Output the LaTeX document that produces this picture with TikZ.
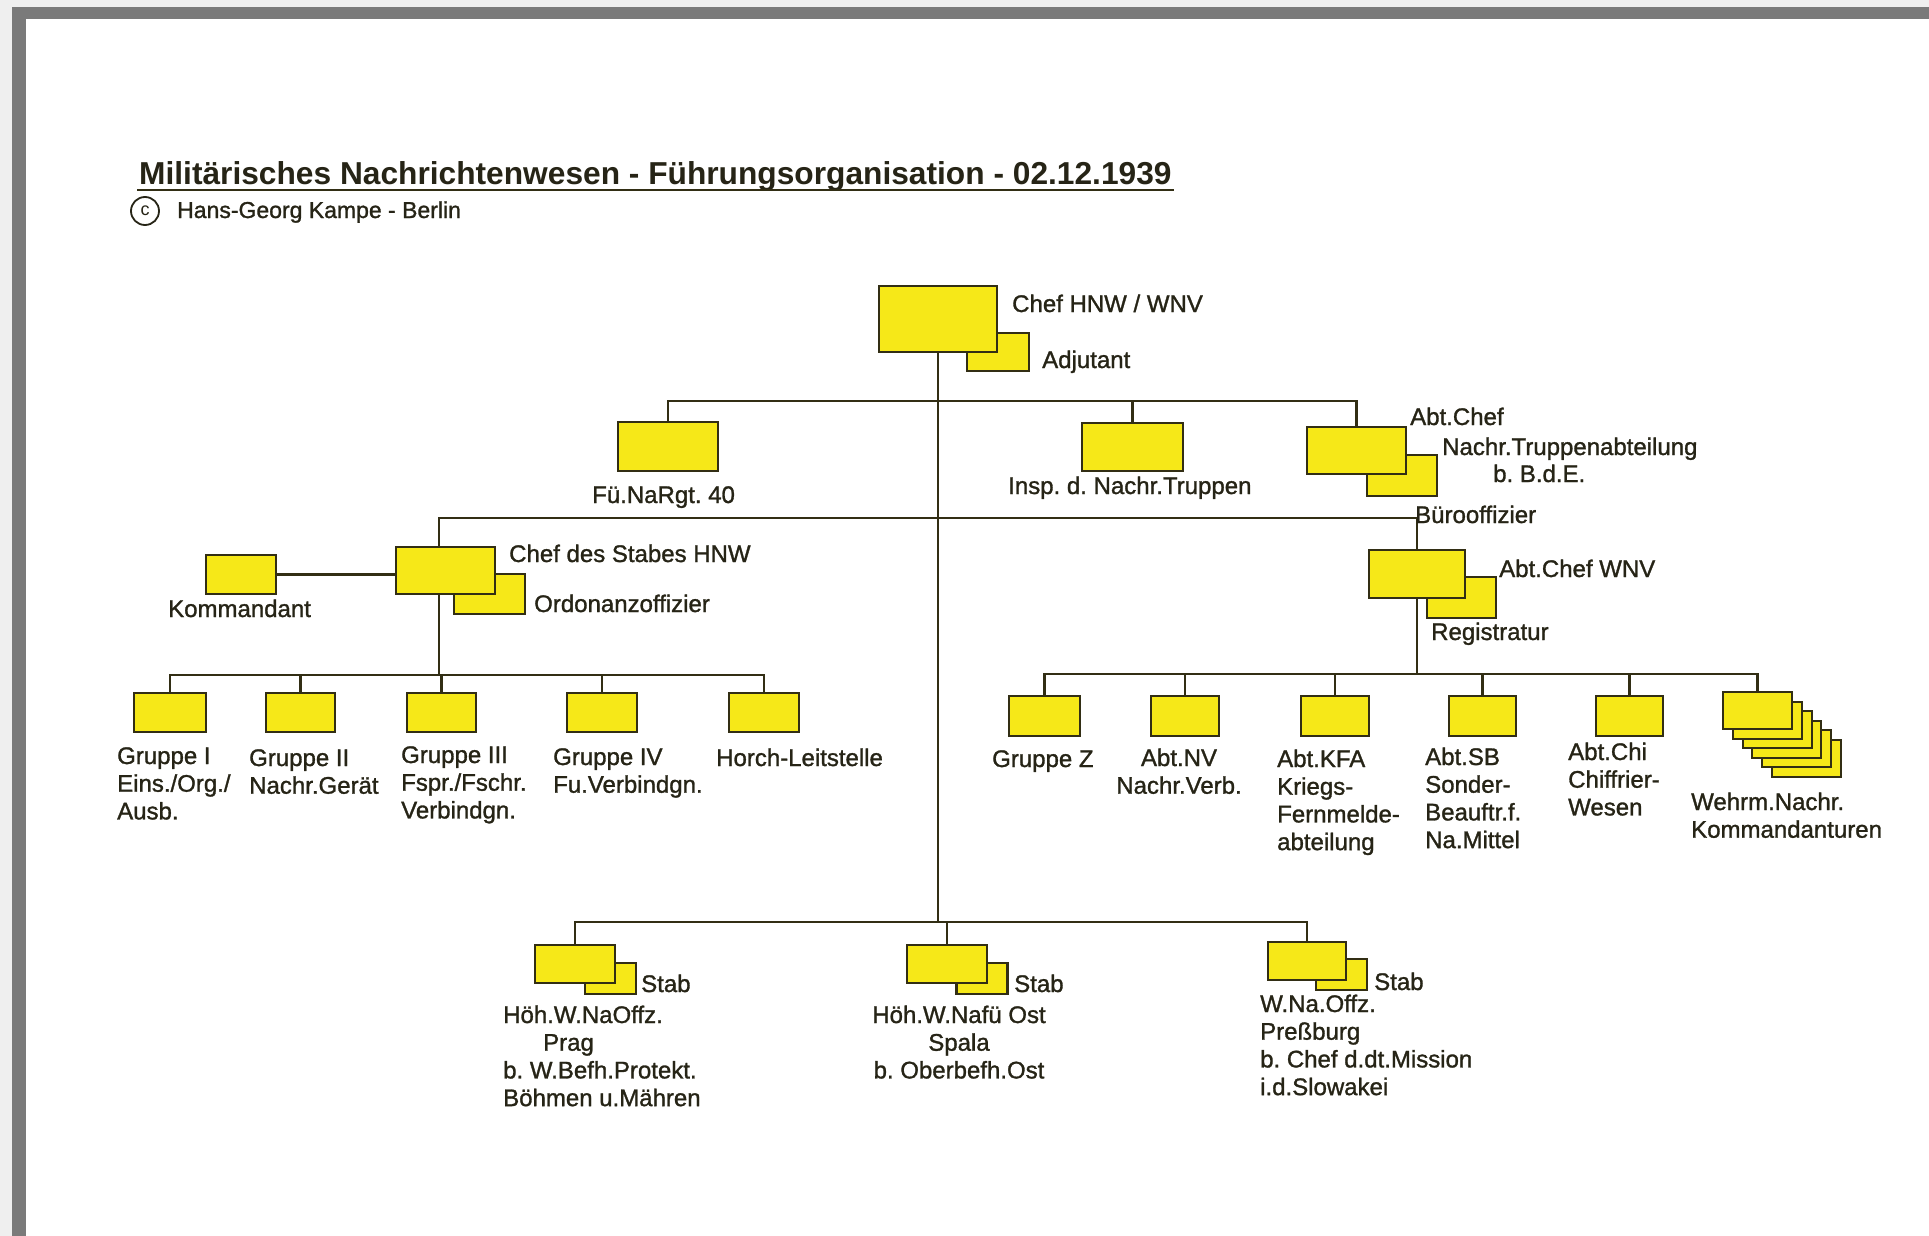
\documentclass[tikz,border=0pt]{standalone}
\usepackage{fontspec}
\setmainfont{Liberation Sans}
\newfontfamily\lblfont[FakeBold=1.2]{Liberation Sans}
\usetikzlibrary{calc}
\frenchspacing
\definecolor{boxfill}{RGB}{246,232,24}
\definecolor{boxline}{RGB}{50,46,20}
\definecolor{txt}{RGB}{38,36,22}
\definecolor{frameD}{RGB}{122,122,122}
\definecolor{frameL}{RGB}{239,239,239}
\newcommand{\mlines}[1]{\begin{tabular}[t]{@{}l@{}}#1\end{tabular}}
\newcommand{\mcent}[1]{\begin{tabular}[t]{@{}c@{}}#1\end{tabular}}
\tikzset{
  orgbox/.style={draw=boxline, fill=boxfill, line width=2.4pt, inner sep=0pt, outer sep=0pt, rectangle},
  conn/.style={draw=boxline, line width=2.2pt},
  lbl/.style={text=txt, inner sep=0pt, anchor=base west, font=\lblfont\fontsize{24}{27.7}\selectfont},
  lblc/.style={lbl, anchor=base}
}
\begin{document}
\begin{tikzpicture}[x=1pt,y=-1pt]
\useasboundingbox (0,0) rectangle (1929,1236);
% frame
\fill[frameL] (0,0) rectangle (1929,1236);
\fill[frameD] (12,7) rectangle (1929,1236);
\fill[white] (26,19) rectangle (1929,1236);

% title
\node[text=txt, inner sep=0pt, anchor=base west, font=\bfseries\fontsize{31.7}{34}\selectfont] (title) at (139,184) {Militärisches Nachrichtenwesen - Führungsorganisation - 02.12.1939};
\draw[boxline, line width=2.6pt] ([yshift=-6pt,xshift=-2pt]title.base west) -- ([yshift=-6pt,xshift=2pt]title.base east);
\node[circle, draw=txt, line width=1.8pt, minimum size=28pt, inner sep=0pt, text=txt, font=\fontsize{18}{18}\selectfont] (copyr) at (145,211) {c};
\node[text=txt, inner sep=0pt, anchor=base west, font=\lblfont\fontsize{23}{26}\selectfont] (author) at (177,218) {Hans-Georg Kampe - Berlin};

% bus levels
\coordinate (b1) at (0,401);
\coordinate (b2) at (0,518);
\coordinate (b3) at (0,675);
\coordinate (b4) at (0,674);
\coordinate (b5) at (0,922);
\coordinate (sx) at (439,0);

% boxes (back boxes first)
\node[orgbox, minimum width=62pt, minimum height=38pt] (adj) at (998,352) {};
\node[orgbox, minimum width=118pt, minimum height=66pt] (chef) at (938,319) {};

\node[orgbox, minimum width=100pt, minimum height=49pt] (fue) at (668,446.5) {};
\node[orgbox, minimum width=101pt, minimum height=48pt] (insp) at (1132.5,447) {};
\node[orgbox, minimum width=70pt, minimum height=41pt] (buero) at (1402,475.5) {};
\node[orgbox, minimum width=99pt, minimum height=47pt] (abtchef) at (1356.5,450.5) {};

\node[orgbox, minimum width=71pt, minimum height=40pt] (ordon) at (489.5,594) {};
\node[orgbox, minimum width=99pt, minimum height=47pt] (stab) at (445.5,570.5) {};
\node[orgbox, minimum width=70pt, minimum height=39pt] (kdt) at (241,574.5) {};

\node[orgbox, minimum width=72pt, minimum height=39pt] (g1) at (170,712.5) {};
\node[orgbox, minimum width=69pt, minimum height=39pt] (g2) at (300.5,712.5) {};
\node[orgbox, minimum width=69pt, minimum height=39pt] (g3) at (441.5,712.5) {};
\node[orgbox, minimum width=70pt, minimum height=39pt] (g4) at (602,712.5) {};
\node[orgbox, minimum width=70pt, minimum height=39pt] (horch) at (764,712.5) {};

\node[orgbox, minimum width=69pt, minimum height=41pt] (reg) at (1461.5,597.5) {};
\node[orgbox, minimum width=96pt, minimum height=48pt] (wnv) at (1417,574) {};

\node[orgbox, minimum width=71pt, minimum height=40pt] (gz) at (1044.5,716) {};
\node[orgbox, minimum width=68pt, minimum height=40pt] (nv) at (1185,716) {};
\node[orgbox, minimum width=68pt, minimum height=40pt] (kfa) at (1335,716) {};
\node[orgbox, minimum width=67pt, minimum height=40pt] (sb) at (1482.5,716) {};
\node[orgbox, minimum width=67pt, minimum height=40pt] (chi) at (1629.5,716) {};
\foreach \k in {5,4,3,2,1}{
  \node[orgbox, line width=2pt, minimum width=69pt, minimum height=37pt] (wk\k) at ({1757.5+9.8*\k},{710.5+9.6*\k}) {};
}
\node[orgbox, minimum width=69pt, minimum height=37pt] (wehrm) at (1757.5,710.5) {};

\node[orgbox, minimum width=51pt, minimum height=31pt] (pragb) at (610.5,978.5) {};
\node[orgbox, minimum width=80pt, minimum height=38pt] (prag) at (575,964) {};
\node[orgbox, minimum width=51pt, minimum height=31pt] (spalab) at (982,978.5) {};
\node[orgbox, minimum width=80pt, minimum height=38pt] (spala) at (947,964) {};
\node[orgbox, minimum width=51pt, minimum height=31pt] (pressb) at (1341.5,974.5) {};
\node[orgbox, minimum width=78pt, minimum height=38pt] (press) at (1307,961) {};

% connectors
\draw[conn] (chef.south) -- (chef.south |- b5);
\draw[conn] (fue.north) |- (abtchef.north |- b1) -- (abtchef.north);
\draw[conn] (insp.north) -- (insp.north |- b1);
\draw[conn] (sx |- stab.north) -- (sx |- b2) -| (wnv.north);
\draw[conn] (kdt.east) -- (kdt.east -| stab.west);
\draw[conn] (sx |- stab.south) -- (sx |- b3);
\draw[conn] (g1.north) |- (horch.north |- b3) -- (horch.north);
\foreach \n in {g2,g3,g4}{\draw[conn] (\n.north) -- (\n.north |- b3);}
\draw[conn] (wnv.south) -- (wnv.south |- b4);
\draw[conn] (gz.north) |- (wehrm.north |- b4) -- (wehrm.north);
\foreach \n in {nv,kfa,sb,chi}{\draw[conn] (\n.north) -- (\n.north |- b4);}
\draw[conn] (prag.north) |- (press.north |- b5) -- (press.north);
\draw[conn] (spala.north) -- (spala.north |- b5);

% labels
\node[lbl] (lChef) at (1012,312) {Chef HNW / WNV};
\node[lbl] (lAdj) at (1042,368) {Adjutant};
\node[lbl] (lFue) at (592,503) {Fü.NaRgt. 40};
\node[lbl] (lInsp) at (1008,494) {Insp. d. Nachr.Truppen};
\node[lbl] (lAbt1) at (1410,425) {Abt.Chef};
\node[lbl] (lAbt2) at (1442,455) {Nachr.Truppenabteilung};
\node[lbl] (lAbt3) at (1493,482) {b. B.d.E.};
\node[lbl] (lBuero) at (1415,523) {Bürooffizier};
\node[lbl] (lStab) at (509,562) {Chef des Stabes HNW};
\node[lbl] (lOrd) at (534,612) {Ordonanzoffizier};
\node[lbl] (lKdt) at (168,617) {Kommandant};
\node[lbl] (lWnv) at (1499,577) {Abt.Chef WNV};
\node[lbl] (lReg) at (1431,640) {Registratur};

\node[lbl] (lG1) at (117,764) {\mlines{Gruppe I\\Eins./Org./\\Ausb.}};
\node[lbl] (lG2) at (249,766) {\mlines{Gruppe II\\Nachr.Gerät}};
\node[lbl] (lG3) at (401,763) {\mlines{Gruppe III\\Fspr./Fschr.\\Verbindgn.}};
\node[lbl] (lG4) at (553,765) {\mlines{Gruppe IV\\Fu.Verbindgn.}};
\node[lbl] (lHorch) at (716,766) {Horch-Leitstelle};

\node[lbl] (lGZ) at (992,767) {Gruppe Z};
\node[lblc] (lNV) at (1179,766) {\mcent{Abt.NV\\Nachr.Verb.}};
\node[lbl] (lKFA) at (1277,767) {\mlines{Abt.KFA\\Kriegs-\\Fernmelde-\\abteilung}};
\node[lbl] (lSB) at (1425,765) {\mlines{Abt.SB\\Sonder-\\Beauftr.f.\\Na.Mittel}};
\node[lbl] (lChi) at (1568,760) {\mlines{Abt.Chi\\Chiffrier-\\Wesen}};
\node[lbl] (lWehrm) at (1691,810) {\mlines{Wehrm.Nachr.\\Kommandanturen}};

\node[lbl] (lPragStab) at (641,992) {Stab};
\node[lbl] (lSpalaStab) at (1014,992) {Stab};
\node[lbl] (lPressStab) at (1374,990) {Stab};
\node[lbl] (lPrag) at (503,1023) {\mlines{Höh.W.NaOffz.\\\hspace*{40pt}Prag\\b. W.Befh.Protekt.\\Böhmen u.Mähren}};
\node[lblc] (lSpala) at (959,1023) {\mcent{Höh.W.Nafü Ost\\Spala\\b. Oberbefh.Ost}};
\node[lbl] (lPress) at (1260,1012) {\mlines{W.Na.Offz.\\Preßburg\\b. Chef d.dt.Mission\\i.d.Slowakei}};
\end{tikzpicture}
\end{document}
